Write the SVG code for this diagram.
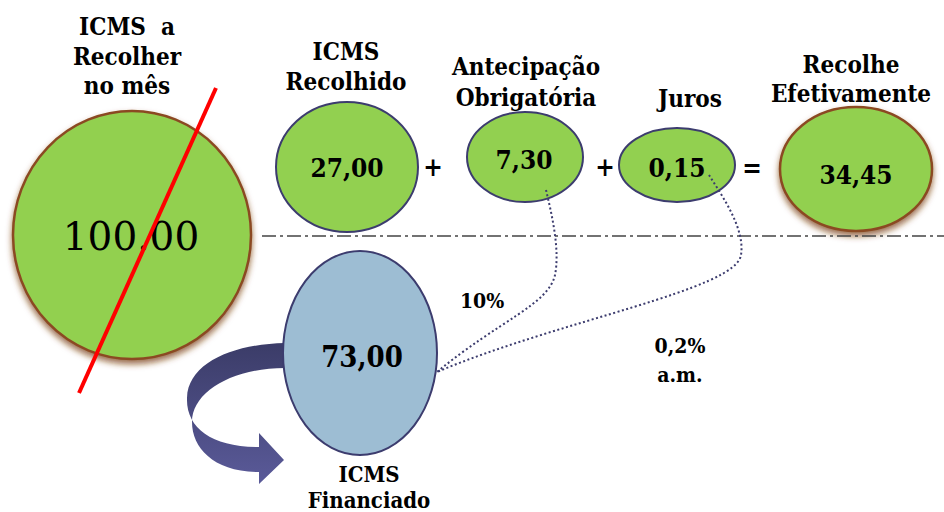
<svg xmlns="http://www.w3.org/2000/svg" width="944" height="512" viewBox="0 0 944 512">
<defs>
<filter id="sh" x="-20%" y="-20%" width="140%" height="150%">
<feDropShadow dx="0" dy="4" stdDeviation="3" flood-color="#7a3d10" flood-opacity="0.75"/>
</filter>
<linearGradient id="arrowGrad" x1="0" y1="0" x2="0" y2="1">
<stop offset="0" stop-color="#3b3c68"/>
<stop offset="1" stop-color="#5a5a99"/>
</linearGradient>
<style>
.t{font-family:"DejaVu Serif Condensed","DejaVu Serif","Liberation Serif",serif;font-stretch:condensed;font-weight:bold;fill:#000;text-anchor:middle}
.lbl{font-size:24px}
.num{font-size:26px}
.pct{font-size:21px}
.green{fill:#92d050}
.brown{stroke:#8b4a22;stroke-width:2.5}
.navy{stroke:#3c3c6e;stroke-width:2}
.dot{fill:none;stroke:#3c3c6e;stroke-width:2;stroke-dasharray:2 2.5}
</style>
</defs>

<g id="recolher-mes">
<ellipse cx="132" cy="235" rx="119" ry="124" class="green brown" filter="url(#sh)"/>
<text class="t lbl" x="127" y="35">ICMS&#160; a</text>
<text class="t lbl" x="127" y="65">Recolher</text>
<text class="t lbl" x="127" y="94">no mês</text>
<text x="131" y="250" font-family="DejaVu Serif, Liberation Serif, serif" font-size="39" text-anchor="middle" fill="#000">100.00</text>
<line x1="216" y1="88" x2="79" y2="393" stroke="#ff0000" stroke-width="4"/>
</g>

<g id="recolhido">
<ellipse cx="347" cy="167" rx="71" ry="65" class="green navy"/>
<text class="t lbl" x="346" y="60">ICMS</text>
<text class="t lbl" x="346" y="90">Recolhido</text>
<text class="t num" x="347" y="177">27,00</text>
</g>

<text class="t" x="433" y="176" font-size="26">+</text>

<g id="antecipacao">
<ellipse cx="525" cy="157" rx="58" ry="45" class="green navy"/>
<text class="t lbl" x="526" y="75">Antecipação</text>
<text class="t lbl" x="526" y="106">Obrigatória</text>
<text class="t num" x="524" y="169">7,30</text>
</g>

<text class="t" x="605" y="176" font-size="26">+</text>

<g id="juros">
<ellipse cx="677" cy="165" rx="58" ry="37" class="green navy"/>
<text class="t lbl" x="690" y="107">Juros</text>
<text class="t num" x="677" y="177">0,15</text>
</g>

<text class="t" x="752" y="177" font-size="26">=</text>

<g id="recolhe-efetivamente">
<ellipse cx="856" cy="169" rx="76" ry="62" class="green brown" filter="url(#sh)"/>
<text class="t lbl" x="851" y="73">Recolhe</text>
<text class="t lbl" x="851" y="102">Efetivamente</text>
<text class="t num" x="856" y="184">34,45</text>
</g>

<line x1="262" y1="236" x2="944" y2="236" stroke="#444" stroke-width="1.5" stroke-dasharray="14 4 3 4"/>

<g id="financiado">
<path d="M285,343 C235,344 188,362 187,398 C186,428 212,447 259,447 L259,433 L284,460 L259,484 L259,472 C214,472 192,448 192,422 C192,392 232,368 285,368 Z" fill="url(#arrowGrad)"/>
<ellipse cx="360" cy="353" rx="77" ry="102" fill="#9dbdd3" class="navy"/>
<text class="t" x="362" y="367" font-size="29">73,00</text>
<text class="t" x="369" y="482" font-size="22">ICMS</text>
<text class="t" x="369" y="508" font-size="22">Financiado</text>
</g>

<g id="connectors">
<path class="dot" d="M546,190 C552,215 560,250 555,275 C548,305 500,320 437,372"/>
<path class="dot" d="M709,175 C725,200 745,230 741,255 C736,290 560,320 437,372"/>
</g>

<text class="t pct" x="482" y="308">10%</text>
<text class="t pct" x="680" y="353">0,2%</text>
<text class="t pct" x="680" y="382">a.m.</text>
</svg>
